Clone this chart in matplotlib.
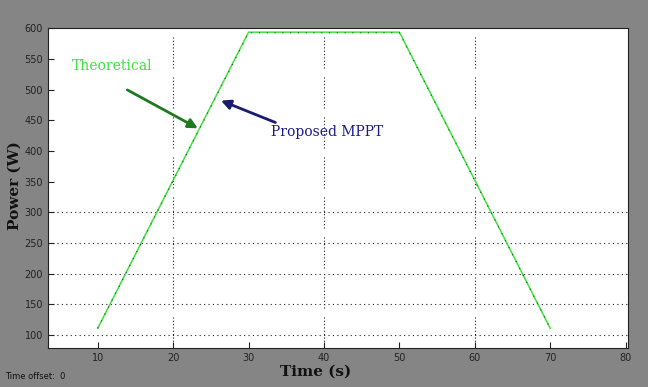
import matplotlib
matplotlib.use("Agg")
import matplotlib.pyplot as plt

# trapezoid power profile
time_s = [10, 30, 50, 70]
theoretical_w = [111, 594, 594, 111]
proposed_w = [111, 593, 593, 111]

y_ticks = [100, 150, 200, 250, 300, 350, 400, 450, 500, 550, 600]
x_ticks = [10, 20, 30, 40, 50, 60, 70, 80]
grid_y = [100, 150, 200, 250, 300]
grid_x = [20, 40, 60]

fig = plt.figure(figsize=(6.48, 3.87), dpi=100)
fig.patch.set_facecolor("#858585")
ax = fig.add_axes([0.074, 0.101, 0.895, 0.827])
ax.set_facecolor("white")

ax.plot(time_s, theoretical_w, color="#3fe03f", lw=1.1, zorder=3)
ax.plot(time_s, proposed_w, color="#1a5a1a", lw=0.8, ls=(0, (1, 6)), zorder=4)

for g in grid_y:
    ax.axhline(g, color="#222222", lw=0.8, ls=(0, (1, 3)), zorder=1)
# vertical grid in the scope shows as broken dotted segments
seg = (0, (1, 2) * 9 + (1, 8))
for g in grid_x:
    ax.axvline(g, color="#222222", lw=0.8, ls=seg, zorder=1)

ax.set_xlim(3.4, 80.3)
ax.set_ylim(79, 601)
ax.set_xticks(x_ticks)
ax.set_yticks(y_ticks)
ax.tick_params(direction="in", labelsize=7, colors="#222222", length=4)
for s in ax.spines.values():
    s.set_color("#222222")

ax.text(6.6, 532, "Theoretical", color="#3fe03f", fontsize=10, family="serif")
ax.annotate("", xy=(23.6, 435), xytext=(13.6, 502),
            arrowprops=dict(arrowstyle="-|>", color="#1f7a1f", lw=2, mutation_scale=14))
ax.text(33.0, 425, "Proposed MPPT", color="#1a1a8c", fontsize=10, family="serif")
ax.annotate("", xy=(26.0, 484), xytext=(33.9, 445),
            arrowprops=dict(arrowstyle="-|>", color="#1a1a6e", lw=2, mutation_scale=14))

fig.text(0.022, 0.52, "Power (W)", rotation=90, ha="center", va="center",
         family="serif", fontweight="bold", fontsize=11, color="#111111")
fig.text(0.487, 0.04, "Time (s)", ha="center", va="center",
         family="serif", fontweight="bold", fontsize=11, color="#111111")
fig.text(0.008, 0.028, "Time offset:  0", fontsize=6, color="#111111", va="center")

fig.savefig("out.png", dpi=100, facecolor=fig.get_facecolor())
